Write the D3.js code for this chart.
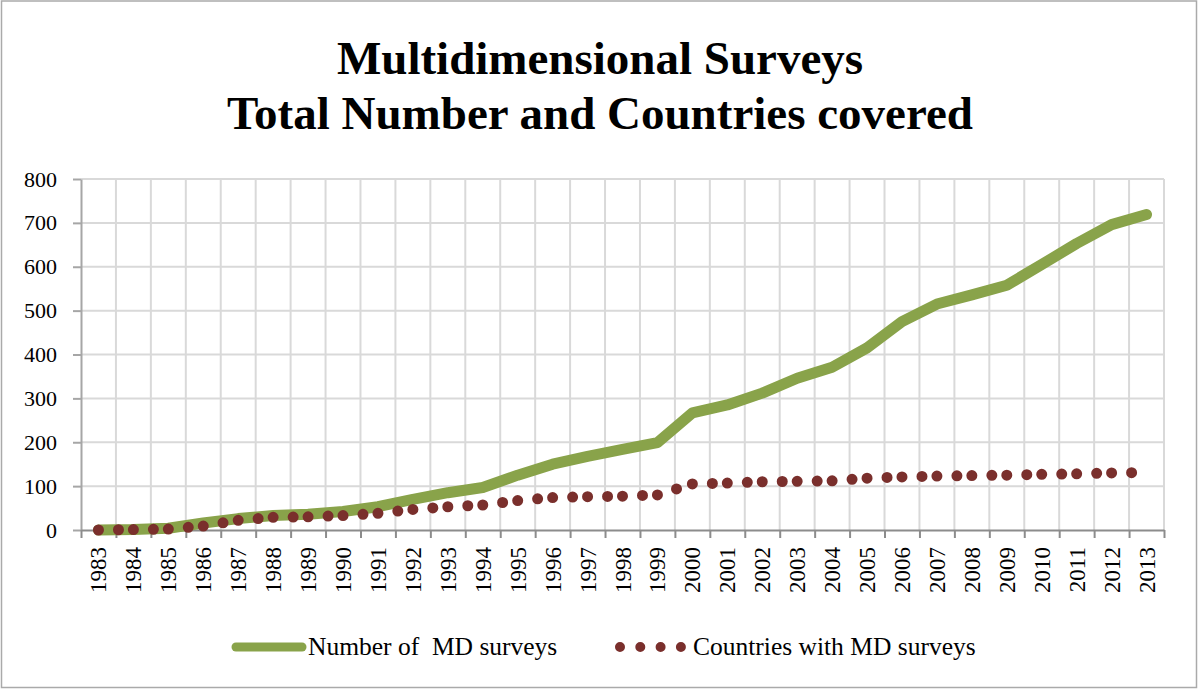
<!DOCTYPE html>
<html>
<head>
<meta charset="utf-8">
<script src="https://cdn.jsdelivr.net/npm/d3@7"></script>
<style>
  body { margin: 0; background: #fff; }
  text { font-family: "Liberation Serif", "DejaVu Serif", serif; fill: #000; }
</style>
</head>
<body>
<div id="chart"></div>
<script>
var svgWidth = 1198;
var svgHeight = 689;

var margin = { top: 179, right: 34, bottom: 159, left: 81 };
var width = svgWidth - margin.left - margin.right;
var height = svgHeight - margin.top - margin.bottom;

// data
var years = d3.range(1983, 2014).map(String);
var mdSurveys = [0, 1, 4, 16, 26, 33, 36, 42, 53, 70, 85, 97, 125, 150, 168, 184, 199,
  267, 285, 312, 346, 371, 415, 475, 515, 536, 558, 605, 653, 696, 719];
var countries = [0, 1, 2, 9, 22, 29, 30, 33, 38, 47, 53, 57, 67, 74, 76, 77, 80,
  105, 107, 110, 111, 112, 118, 121, 123, 124, 125, 127, 128, 130, 131];
var yTicks = [0, 100, 200, 300, 400, 500, 600, 700, 800];

var titleLines = ["Multidimensional Surveys", "Total Number and Countries covered"];
var seriesNames = ["Number of  MD surveys", "Countries with MD surveys"];

var green = "#89a34a";
var maroon = "#7a2f2c";

var svg = d3.select("#chart")
  .append("svg")
  .attr("width", svgWidth)
  .attr("height", svgHeight);

// chart area border
svg.append("rect")
  .attr("x", 1.5)
  .attr("y", 1)
  .attr("width", svgWidth - 3)
  .attr("height", svgHeight - 2.5)
  .attr("fill", "#fff")
  .attr("stroke", "#aaaaaa")
  .attr("stroke-width", 1.5);

// title
svg.append("g")
  .selectAll("text")
  .data(titleLines)
  .enter()
  .append("text")
  .attr("x", 600)
  .attr("y", (d, i) => 74 + i * 55)
  .attr("text-anchor", "middle")
  .attr("font-size", 47)
  .attr("font-weight", "bold")
  .text(d => d);

var chartGroup = svg.append("g")
  .attr("transform", `translate(${margin.left}, ${margin.top})`);

var xBand = d3.scaleBand()
  .domain(years)
  .range([0, width])
  .padding(0);

// boundaries between categories, for grid and ticks
var xEdge = d3.scaleLinear()
  .domain([0, years.length])
  .range([0, width]);

var yLinearScale = d3.scaleLinear()
  .domain([0, 800])
  .range([height, 0]);

// gridlines
chartGroup.append("g")
  .selectAll("line.h")
  .data(yTicks.slice(1))
  .enter()
  .append("line")
  .attr("x1", 0)
  .attr("x2", width)
  .attr("y1", d => yLinearScale(d))
  .attr("y2", d => yLinearScale(d))
  .attr("stroke", "#d9d9d9")
  .attr("stroke-width", 2);

chartGroup.append("g")
  .selectAll("line.v")
  .data(d3.range(1, years.length + 1))
  .enter()
  .append("line")
  .attr("x1", d => xEdge(d))
  .attr("x2", d => xEdge(d))
  .attr("y1", 0)
  .attr("y2", height)
  .attr("stroke", "#d9d9d9")
  .attr("stroke-width", 2);

// y axis
var leftAxis = d3.axisLeft(yLinearScale)
  .tickValues(yTicks)
  .tickSize(8)
  .tickPadding(16)
  .tickSizeOuter(0);

var yAxis = chartGroup.append("g").call(leftAxis);
yAxis.select(".domain").attr("stroke", "#a6a6a6").attr("stroke-width", 2);
yAxis.selectAll(".tick line").attr("stroke", "#a6a6a6").attr("stroke-width", 2);
yAxis.selectAll(".tick text")
  .attr("font-size", 22)
  .attr("font-family", "Liberation Serif, serif")
  .attr("fill", "#000");

// x axis: ticks on category edges
var bottomAxis = d3.axisBottom(xEdge)
  .tickValues(d3.range(0, years.length + 1))
  .tickFormat("")
  .tickSize(8)
  .tickSizeOuter(0);

var xAxis = chartGroup.append("g")
  .attr("transform", `translate(0, ${height})`)
  .call(bottomAxis);
xAxis.select(".domain").attr("stroke", "#8c8c8c").attr("stroke-width", 2);
xAxis.selectAll(".tick line").attr("stroke", "#8c8c8c").attr("stroke-width", 2);

chartGroup.append("g")
  .selectAll("text")
  .data(years)
  .enter()
  .append("text")
  .attr("transform", d => `translate(${xBand(d) + xBand.bandwidth() / 2 + 8}, ${height + 17}) rotate(-90)`)
  .attr("text-anchor", "end")
  .attr("font-size", 23)
  .text(d => d);

var cx = i => xBand(years[i]) + xBand.bandwidth() / 2;

// green line
var line = d3.line()
  .x((d, i) => cx(i))
  .y(d => yLinearScale(d));

chartGroup.append("path")
  .datum(mdSurveys)
  .attr("d", line)
  .attr("fill", "none")
  .attr("stroke", green)
  .attr("stroke-width", 11)
  .attr("stroke-linejoin", "round")
  .attr("stroke-linecap", "round");

// dotted line: dash pattern restarts on every segment
chartGroup.append("g")
  .selectAll("path")
  .data(countries.slice(1).map((v, i) => [[cx(i), countries[i]], [cx(i + 1), v]]))
  .enter()
  .append("path")
  .attr("d", d => `M${d[0][0]},${yLinearScale(d[0][1])}L${d[1][0]},${yLinearScale(d[1][1])}`)
  .attr("fill", "none")
  .attr("stroke", maroon)
  .attr("stroke-width", 11)
  .attr("stroke-linecap", "round")
  .attr("stroke-dasharray", "0 20");

// legend
var legend = svg.append("g");
legend.append("line")
  .attr("x1", 236).attr("x2", 302)
  .attr("y1", 647).attr("y2", 647)
  .attr("stroke", green)
  .attr("stroke-width", 9)
  .attr("stroke-linecap", "round");
legend.append("text")
  .attr("x", 308).attr("y", 655)
  .attr("font-size", 25.5)
  .style("white-space", "pre")
  .text(seriesNames[0]);

legend.append("line")
  .attr("x1", 620).attr("x2", 681)
  .attr("y1", 647).attr("y2", 647)
  .attr("stroke", maroon)
  .attr("stroke-width", 10)
  .attr("stroke-linecap", "round")
  .attr("stroke-dasharray", "0 20.3");
legend.append("text")
  .attr("x", 693).attr("y", 655)
  .attr("font-size", 25.5)
  .text(seriesNames[1]);
</script>
</body>
</html>
